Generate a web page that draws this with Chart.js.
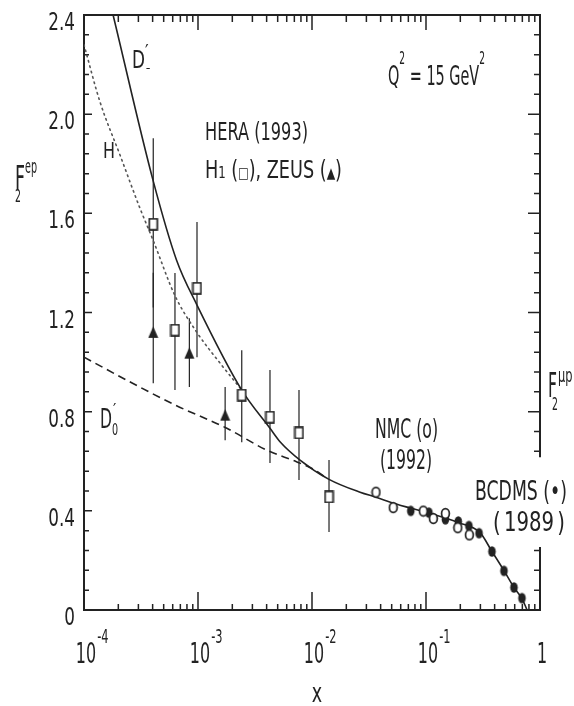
<!DOCTYPE html>
<html>
<head>
<meta charset="utf-8">
<script src="https://cdn.jsdelivr.net/npm/chart.js@4"></script>
<style>
  html, body { margin: 0; background: #fff; }
  canvas { display: block; }
</style>
</head>
<body>
<canvas id="myChart" width="574" height="706"></canvas>
<script>
// HERA H1 (open squares) with error bars
const h1X  = [4.05e-4, 6.28e-4, 9.8e-4, 2.42e-3, 4.28e-3, 7.69e-3, 1.41e-2];
const h1Y  = [1.556, 1.129, 1.298, 0.867, 0.778, 0.714, 0.456];
const h1Lo = [1.22, 0.887, 1.02, 0.677, 0.593, 0.524, 0.315];
const h1Hi = [1.903, 1.359, 1.565, 1.048, 0.968, 0.887, 0.605];

// HERA ZEUS (filled triangles)
const zeusX  = [4.05e-4, 8.4e-4, 1.73e-3];
const zeusY  = [1.12, 1.036, 0.786];
const zeusLo = [0.915, 0.899, 0.685];
const zeusHi = [1.36, 1.177, 0.899];

// NMC 1992 (open circles)
const nmcX = [0.0364, 0.0516, 0.0946, 0.116, 0.148, 0.190, 0.240];
const nmcY = [0.475, 0.413, 0.399, 0.369, 0.389, 0.332, 0.303];

// BCDMS 1989 (filled circles)
const bcdmsX = [0.0735, 0.106, 0.148, 0.192, 0.238, 0.292, 0.379, 0.483, 0.591, 0.695];
const bcdmsY = [0.40, 0.393, 0.366, 0.357, 0.339, 0.31, 0.236, 0.158, 0.091, 0.048];

// curves
const dMinusX = [1.8e-4, 4.05e-4, 6.5e-4, 9.8e-4, 2.42e-3, 4.28e-3, 5.24e-3, 7.85e-3, 1.41e-2, 2.64e-2, 3.7e-2, 5.1e-2, 0.108, 0.191, 0.298, 0.379, 0.483, 0.591, 0.695, 0.77];
const dMinusY = [2.4, 1.73, 1.41, 1.23, 0.887, 0.733, 0.679, 0.605, 0.527, 0.475, 0.454, 0.432, 0.39, 0.353, 0.312, 0.236, 0.159, 0.091, 0.046, 0.0];
const hX = [1e-4, 1.38e-4, 2.07e-4, 3.1e-4, 4.05e-4, 6.28e-4, 9.7e-4, 1.56e-3, 2.42e-3];
const hY = [2.28, 2.05, 1.835, 1.62, 1.49, 1.268, 1.122, 0.996, 0.887];
const dZeroX = [1e-4, 2.37e-4, 6.28e-4, 1.79e-3, 4.0e-3, 7.3e-3, 1.0e-2, 1.3e-2];
const dZeroY = [1.02, 0.927, 0.827, 0.733, 0.645, 0.598, 0.571, 0.537];

// axis ticks
const yTicks = [0, 0.4, 0.8, 1.2, 1.6, 2.0, 2.4];
const yTickLabels = ['0', '0.4', '0.8', '1.2', '1.6', '2.0', '2.4'];
const xTicks = [1e-4, 1e-3, 1e-2, 1e-1, 1];
const xTickBase = ['10', '10', '10', '10', '1'];
const xTickExp = ['-4', '-3', '-2', '-1', ''];

const INK = '#222';
const FONT = '"DejaVu Sans"';

const pts = (xs, ys) => xs.map((v, i) => ({ x: v, y: ys[i] }));
const bars = (xs, lo, hi) => xs.flatMap((v, i) => [{ x: v, y: lo[i] }, { x: v, y: hi[i] }, { x: v, y: null }]);

function marker(kind) {
    const c = document.createElement('canvas');
    c.width = 11; c.height = 13;
    const g = c.getContext('2d');
    g.strokeStyle = INK; g.fillStyle = INK; g.lineWidth = 1.7;
    if (kind === 'square') {
        g.fillStyle = '#fff';
        g.fillRect(1.5, 1, 8, 11);
        g.strokeRect(1.5, 1, 8, 11);
    } else if (kind === 'tri') {
        g.beginPath(); g.moveTo(5.5, 0.5); g.lineTo(10.5, 12); g.lineTo(0.5, 12); g.closePath(); g.fill();
    } else if (kind === 'open') {
        g.beginPath(); g.ellipse(5.5, 6.5, 3.9, 4.9, 0, 0, Math.PI * 2);
        g.fillStyle = '#fff'; g.fill(); g.stroke();
    } else {
        g.beginPath(); g.ellipse(5.5, 6.5, 3.8, 5.2, 0, 0, Math.PI * 2); g.fill();
    }
    return c;
}

function txt(ctx, s, x, y, size, sx, align) {
    ctx.save();
    ctx.font = size + 'px ' + FONT;
    const w = ctx.measureText(s).width * sx;
    const x0 = align === 'right' ? x - w : align === 'center' ? x - w / 2 : x;
    ctx.translate(x0, y);
    ctx.scale(sx, 1);
    ctx.fillText(s, 0, 0);
    ctx.restore();
    return w;
}

function fit(ctx, s, x, y, size, width) {
    ctx.save();
    ctx.font = size + 'px ' + FONT;
    const sx = width / ctx.measureText(s).width;
    ctx.restore();
    return txt(ctx, s, x, y, size, sx);
}

function pieces(ctx, list, x, y, width) {
    let total = 0;
    list.forEach(p => { ctx.font = p.s + 'px ' + FONT; total += ctx.measureText(p.t).width; });
    const sx = width / total;
    let cx = x;
    list.forEach(p => { cx += txt(ctx, p.t, cx, y + (p.dy || 0), p.s, sx); });
}

const frame = {
    id: 'frame',
    beforeDatasetsDraw(chart) {
        const { ctx, chartArea: a, scales: { x, y } } = chart;
        ctx.save();
        ctx.strokeStyle = INK;
        ctx.lineWidth = 2;
        ctx.lineCap = 'square';
        const yBreakHi = y.getPixelForValue(0.62), yBreakLo = y.getPixelForValue(0.25);
        ctx.beginPath();
        ctx.moveTo(a.left, a.top); ctx.lineTo(a.left, a.bottom); ctx.lineTo(a.right, a.bottom);
        ctx.moveTo(a.left, a.top); ctx.lineTo(a.right, a.top); ctx.lineTo(a.right, yBreakHi);
        ctx.moveTo(a.right, yBreakLo); ctx.lineTo(a.right, a.bottom);
        ctx.stroke();

        ctx.lineWidth = 1.5;
        ctx.lineCap = 'butt';
        ctx.beginPath();
        // x ticks: decades and 2..9
        for (let d = -4; d <= 0; d++) {
            for (let m = 1; m <= 9; m++) {
                const v = m * Math.pow(10, d);
                if (v > 1) break;
                const px = x.getPixelForValue(v);
                const major = m === 1;
                ctx.moveTo(px, a.bottom); ctx.lineTo(px, a.bottom - (major ? 18 : 6));
                ctx.moveTo(px, a.top); ctx.lineTo(px, a.top + (major ? 15 : 7));
            }
        }
        // y ticks every 0.08, major every 0.4
        for (let k = 0; k <= 30; k++) {
            const v = k * 0.08;
            const py = y.getPixelForValue(v);
            const major = k % 5 === 0;
            ctx.moveTo(a.left, py); ctx.lineTo(a.left + (major ? 8 : 5), py);
            if (v < 0.25 || v > 0.62) {
                ctx.moveTo(a.right, py); ctx.lineTo(a.right - (major ? 12 : 6), py);
            }
        }
        ctx.stroke();
        ctx.restore();
    },
    afterDraw(chart) {
        const { ctx, chartArea: a, scales: { x, y } } = chart;
        ctx.save();
        ctx.fillStyle = INK;
        ctx.textBaseline = 'alphabetic';

        yTicks.forEach((v, i) => {
            txt(ctx, yTickLabels[i], a.left - 9, y.getPixelForValue(v) + 15, 24, 0.7, 'right');
        });
        xTicks.forEach((v, i) => {
            const px = x.getPixelForValue(v) + 2;
            const w = txt(ctx, xTickBase[i], px, 663, 29, 0.55, 'center');
            if (xTickExp[i]) txt(ctx, xTickExp[i], px + w / 2 + 1, 643, 19, 0.6);
        });
        txt(ctx, 'x', 317, 702, 27, 0.65, 'center');

        // axis titles
        fit(ctx, 'F', 15, 190, 34, 10);
        txt(ctx, '2', 15, 202, 17, 0.55);
        fit(ctx, 'ep', 25, 173, 19, 12);
        fit(ctx, 'F', 548, 397, 34, 9);
        txt(ctx, '2', 552, 410, 17, 0.55);
        txt(ctx, 'μp', 558, 382, 19, 0.6);

        // annotations
        fit(ctx, 'HERA (1993)', 205, 140, 25, 103);
        pieces(ctx, [
            { t: 'H', s: 24 }, { t: '1', s: 16 }, { t: ' (', s: 24 }, { t: '□', s: 15 },
            { t: '), ZEUS (', s: 24 }, { t: '▲', s: 15 }, { t: ')', s: 24 }
        ], 205, 178, 137);
        pieces(ctx, [
            { t: 'Q', s: 27 }, { t: '2', s: 17, dy: -21 }, { t: ' = 15 GeV', s: 27 }, { t: '2', s: 17, dy: -21 }
        ], 388, 85, 97);

        fit(ctx, 'D', 132, 68, 25, 13);
        txt(ctx, '′', 145, 58, 20, 0.8);
        txt(ctx, '–', 146, 72, 14, 0.6);
        fit(ctx, 'H', 103, 158, 21, 12);
        fit(ctx, 'D', 100, 428, 27, 12);
        txt(ctx, '′', 113, 416, 18, 0.8);
        txt(ctx, '0', 112, 435, 16, 0.6);

        fit(ctx, 'NMC (o)', 375, 438, 27, 63);
        fit(ctx, '(1992)', 380, 469, 27, 52);
        fit(ctx, 'BCDMS (•)', 475, 500, 27, 92);
        pieces(ctx, [{ t: '(', s: 27 }, { t: ' ', s: 14 }, { t: '1989', s: 27 }, { t: ' ', s: 14 }, { t: ')', s: 27 }], 493, 531, 72);
        ctx.restore();
    }
};

const curve = (xs, ys, dash, color) => ({
    data: pts(xs, ys), showLine: true, pointRadius: 0, borderColor: color || INK,
    borderWidth: 1.6, borderDash: dash || [], cubicInterpolationMode: 'monotone', fill: false
});
const errs = (xs, lo, hi) => ({
    data: bars(xs, lo, hi), showLine: true, pointRadius: 0, borderColor: INK,
    borderWidth: 1.2, spanGaps: false, tension: 0
});
const marks = (xs, ys, kind) => ({
    data: pts(xs, ys), showLine: false, pointRadius: 5, pointStyle: marker(kind)
});

const ctx = document.getElementById('myChart').getContext('2d');
const chart = new Chart(ctx, {
    type: 'scatter',
    data: {
        datasets: [
            marks(h1X, h1Y, 'square'),
            marks(zeusX, zeusY, 'tri'),
            marks(nmcX, nmcY, 'open'),
            marks(bcdmsX, bcdmsY, 'filled'),
            curve(dMinusX, dMinusY),
            Object.assign(curve(hX, hY, [1.5, 4], '#555'), { borderCapStyle: 'round' }),
            curve(dZeroX, dZeroY, [8, 5]),
            errs(h1X, h1Lo, h1Hi),
            errs(zeusX, zeusLo, zeusHi)
        ]
    },
    options: {
        responsive: false,
        animation: false,
        devicePixelRatio: 1,
        events: [],
        layout: { padding: { left: 84, right: 34, top: 15, bottom: 96 } },
        scales: {
            x: { type: 'logarithmic', min: 1e-4, max: 1, display: false },
            y: { min: 0, max: 2.4, display: false }
        },
        plugins: { legend: { display: false }, tooltip: { enabled: false } }
    },
    plugins: [frame]
});
</script>
</body>
</html>
